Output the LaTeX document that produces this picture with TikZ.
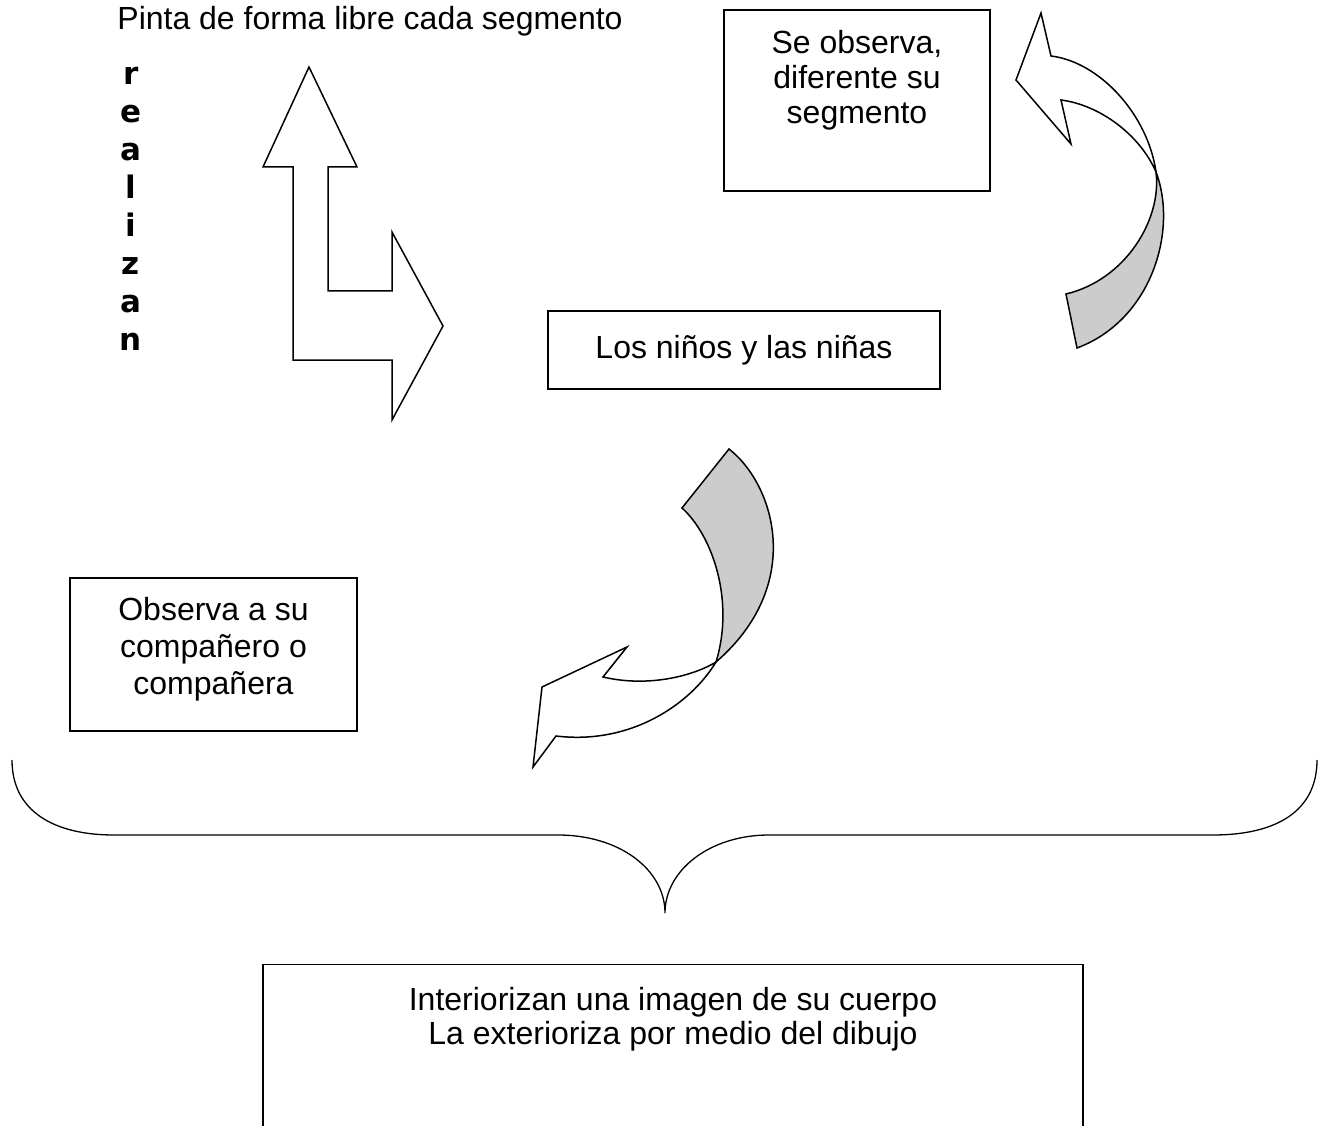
\documentclass[tikz,border=0pt]{standalone}
\usepackage{fontspec}
\setmainfont{Liberation Sans}
\newfontfamily\heavyfont{DejaVu Sans}
\begin{document}
\begin{tikzpicture}[x=1pt,y=-1pt,
  txt/.style={font=\fontsize{32}{36.8}\selectfont, inner sep=0pt, anchor=base},
  vletter/.style={font=\heavyfont\bfseries\fontsize{31}{34}\selectfont, inner sep=0pt, anchor=base},
  box/.style={draw, line width=1.3pt, inner sep=0pt},
  shape line/.style={draw, line width=1.5pt, line join=miter},
  twistgray/.style={fill=black!20, draw, line width=1.5pt},
]
\useasboundingbox (0,0) rectangle (1326,1126);

% title
\node[txt] (title) at (370,30) {Pinta de forma libre cada segmento};

% vertical word
\foreach \ch [count=\i] in {r,e,a,l,i,z,a,n} {
  \node[vletter] (v\i) at (131,{85+37.9*(\i-1)}) {\ch};
}

% bent double arrow
\path[shape line, fill=white]
  (309,67) -- (357,167) -- (328,167) -- (328,291) -- (392,291) -- (392,232)
  -- (443,326) -- (392,420) -- (392,360) -- (293,360) -- (293,167) -- (263,167) -- cycle;

% boxes
\node[box, minimum width=266pt, minimum height=181pt] (obsbox) at (857,100.5) {};
\node[txt] (obs1) at (857,54) {Se observa,};
\node[txt] (obs2) at (857,89) {diferente su};
\node[txt] (obs3) at (857,124) {segmento};

\node[box, minimum width=392pt, minimum height=78pt] (ninos) at (744,350) {};
\node[txt] (ninost) at (744,358) {Los niños y las niñas};

\node[box, minimum width=287pt, minimum height=153pt] (compbox) at (213.5,654.5) {};
\node[txt] (comp1) at (213.5,620) {Observa a su};
\node[txt] (comp2) at (213.5,657) {compañero o};
\node[txt] (comp3) at (213.5,694) {compañera};

\node[box, minimum width=820pt, minimum height=190pt, anchor=north] (bigbox) at (673,964) {};
\node[txt] (big1) at (673,1010) {Interiorizan una imagen de su cuerpo};
\node[txt] (big2) at (673,1044) {La exterioriza por medio del dibujo};

% top right curved arrow
\coordinate (t2) at (1156,172);
\path[twistgray]
  (t2) .. controls (1162,220) and (1125,280) .. (1066,294)
  -- (1077,348) .. controls (1152,320) and (1178,230) .. (t2) -- cycle;
\path[shape line, fill=white]
  (t2) .. controls (1148,115) and (1100,62) .. (1051,56)
  -- (1041,13) -- (1016,80) -- (1071,144) -- (1061,100)
  .. controls (1100,105) and (1140,135) .. (t2) -- cycle;

% lower middle curved arrow
\coordinate (t1) at (716,662);
\path[twistgray]
  (729,449) .. controls (775,485) and (805,585) .. (t1)
  .. controls (735,600) and (712,535) .. (682,508) -- cycle;
\path[shape line, fill=white]
  (t1) .. controls (695,675) and (650,688) .. (603,677)
  -- (627,647) -- (542,687) -- (533,767) -- (556,736)
  .. controls (630,745) and (690,705) .. (t1) -- cycle;

% brace
\draw[line width=1.3pt]
  (12,760) .. controls (12,812) and (55,835) .. (114,835)
  -- (558,835) .. controls (620,835) and (665,870) .. (665,913)
  .. controls (665,870) and (710,835) .. (769,835)
  -- (1213,835) .. controls (1275,835) and (1317,812) .. (1317,760);
\end{tikzpicture}
\end{document}
